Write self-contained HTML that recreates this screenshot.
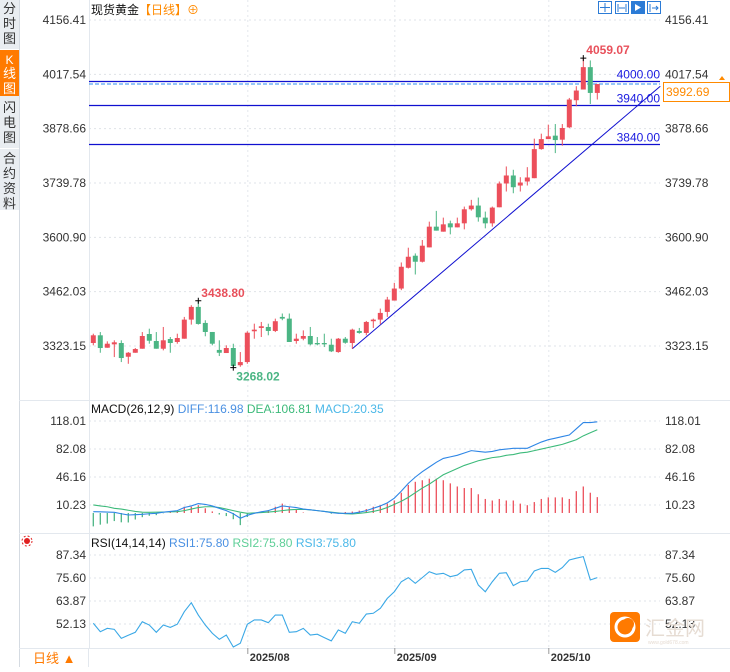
<!DOCTYPE html>
<html><head><meta charset="utf-8">
<style>
html,body{margin:0;padding:0;background:#fff;}
body{width:730px;height:667px;overflow:hidden;font-family:"Liberation Sans","Noto Sans CJK SC",sans-serif;}
svg text{font-family:"Liberation Sans","Noto Sans CJK SC",sans-serif;}
</style></head>
<body>
<svg id="chart" width="730" height="667" viewBox="0 0 730 667" xmlns="http://www.w3.org/2000/svg">
  <rect x="0" y="0" width="730" height="667" fill="#fff"/>
  <!-- sidebar -->
  <g>
    <rect x="0" y="0" width="19" height="210" fill="#e9edf1"/>
    <line x1="19.5" y1="0" x2="19.5" y2="667" stroke="#d5dbe2"/>
    <g><text x="9.5" y="13" font-size="13" text-anchor="middle" fill="#333">分</text><text x="9.5" y="28" font-size="13" text-anchor="middle" fill="#333">时</text><text x="9.5" y="43" font-size="13" text-anchor="middle" fill="#333">图</text></g>
    <line x1="0" y1="49.5" x2="19" y2="49.5" stroke="#fff"/>
    <g><rect x="0" y="50" width="19" height="46" fill="#ff7a00"/><text x="9.5" y="64" font-size="12" text-anchor="middle" fill="#fff">K</text><text x="9.5" y="78" font-size="13" text-anchor="middle" fill="#fff">线</text><text x="9.5" y="93" font-size="13" text-anchor="middle" fill="#fff">图</text></g>
    <g><text x="9.5" y="112" font-size="13" text-anchor="middle" fill="#333">闪</text><text x="9.5" y="127" font-size="13" text-anchor="middle" fill="#333">电</text><text x="9.5" y="142" font-size="13" text-anchor="middle" fill="#333">图</text></g>
    <line x1="0" y1="148.5" x2="19" y2="148.5" stroke="#fff"/>
    <g><text x="9.5" y="163" font-size="13" text-anchor="middle" fill="#333">合</text><text x="9.5" y="178" font-size="13" text-anchor="middle" fill="#333">约</text><text x="9.5" y="193" font-size="13" text-anchor="middle" fill="#333">资</text><text x="9.5" y="208" font-size="13" text-anchor="middle" fill="#333">料</text></g>
  </g>
  <line x1="89.5" y1="0" x2="89.5" y2="648" stroke="#e3e8ee"/>
  <line x1="19" y1="400.5" x2="730" y2="400.5" stroke="#e3e8ee"/>
  <line x1="19" y1="533.5" x2="730" y2="533.5" stroke="#e3e8ee"/>
  <line x1="19" y1="648.5" x2="730" y2="648.5" stroke="#e3e8ee"/>
  <!-- title -->
  <text x="91" y="14" font-size="12" fill="#111">现货黄金<tspan fill="#ff8a00">【日线】</tspan><tspan fill="#ff8a00">⊕</tspan></text>
  <!-- toolbar -->
  <g>
    <g><rect x="598.5" y="1.5" width="13" height="12" fill="#fff" stroke="#2b7bd6"/><path d="M605 3v9M600 7.5h10" stroke="#2b7bd6"/></g>
    <g><rect x="615.5" y="1.5" width="13" height="12" fill="#fff" stroke="#2b7bd6"/><path d="M618 4v8M626 4v8M619 8h6" stroke="#2b7bd6"/></g>
    <g><rect x="631.5" y="1.5" width="13" height="12" fill="#2b7bd6" stroke="#2b7bd6"/><path d="M635 4v7l6-3.5z" fill="#fff"/></g>
    <g><rect x="647.5" y="1.5" width="13" height="12" fill="#fff" stroke="#2b7bd6"/><path d="M650 4v8M652 8h6M656 6l2 2-2 2" stroke="#2b7bd6" fill="none"/></g>
  </g>
  <g id="grid"></g>
  <g id="price"></g>
  <g id="macd"></g>
  <g id="rsi"></g>
  <!-- legends -->
  <text x="91" y="413" font-size="12" fill="#111">MACD(26,12,9) <tspan fill="#4a90e2">DIFF:116.98</tspan> <tspan fill="#3cba7a">DEA:106.81</tspan> <tspan fill="#4bb8e8">MACD:20.35</tspan></text>
  <text x="91" y="547" font-size="12" fill="#111">RSI(14,14,14) <tspan fill="#4a90e2">RSI1:75.80</tspan> <tspan fill="#5fcf98">RSI2:75.80</tspan> <tspan fill="#4bb8e8">RSI3:75.80</tspan></text>
  <g><circle cx="27" cy="541" r="3" fill="#e02020"/><circle cx="27" cy="541" r="5" fill="none" stroke="#e02020" stroke-dasharray="2 2"/></g>
  <!-- bottom -->
  <g><rect x="20" y="649" width="69" height="18" fill="#fff"/><line x1="88.5" y1="649" x2="88.5" y2="667" stroke="#e3e8ee"/><text x="33" y="663" font-size="13" fill="#ff7a00">日线 ▲</text></g>
  <g>
    <rect x="610" y="612" width="30" height="30" rx="4" fill="#ff7a00"/>
    <circle cx="625" cy="627" r="9" fill="none" stroke="#fff" stroke-width="3"/>
    <circle cx="628" cy="624" r="6" fill="#ff7a00"/>
    <text x="645" y="635" font-size="20" fill="#e6dcd3">汇金网</text>
    <text x="648" y="644" font-size="5" fill="#e6dcd3">www.gold678.com</text>
  </g>
  <g>
    <path d="M719 80l3-4 3 4z" fill="#ff8a00"/>
    <rect x="663.5" y="82.5" width="66" height="19" fill="#fff" stroke="#ff8a00"/>
    <text x="666" y="96" font-size="12" fill="#ff8a00">3992.69</text>
  </g>
</svg>
<script>
// ---- data ----
const opens  = [3330.8,3350.5,3318.7,3327.4,3330.8,3295.7,3305.9,3316.2,3353.8,3335.9,3316.2,3341.0,3333.4,3341.8,3390.6,3423.1,3382.1,3359.0,3313.1,3305.2,3318.0,3274.0,3282.1,3360.8,3369.3,3371.8,3361.6,3397.5,3393.1,3335.9,3341.8,3348.7,3330.8,3330.8,3326.4,3307.7,3341.8,3330.8,3361.6,3356.5,3386.5,3390.6,3410.3,3439.3,3470.0,3523.1,3553.9,3538.5,3575.2,3628.2,3615.4,3636.7,3626.4,3636.7,3672.6,3682.1,3651.3,3636.7,3677.7,3738.5,3759.0,3733.3,3743.6,3752.1,3826.4,3852.0,3860.8,3850.5,3882.0,3951.3,3978.7,4035.9,3970.0];
const highs  = [3354.6,3358.8,3335.1,3337.7,3337.7,3307.7,3317.9,3358.8,3367.4,3358.8,3371.8,3346.1,3354.6,3397.5,3427.4,3438.8,3389.0,3359.0,3337.7,3324.9,3329.0,3307.7,3360.8,3380.2,3384.6,3380.2,3393.1,3406.2,3406.2,3354.6,3363.1,3371.8,3346.1,3354.6,3341.8,3343.6,3346.1,3367.4,3369.3,3387.2,3393.1,3418.8,3448.7,3484.6,3536.7,3574.4,3559.8,3594.1,3641.0,3668.5,3651.3,3643.6,3651.3,3679.5,3696.7,3702.6,3666.7,3679.5,3743.6,3782.1,3773.6,3754.6,3780.3,3853.1,3865.9,3889.0,3890.5,3890.5,3957.2,3987.2,4059.07,4053.1,3992.7];
const lows   = [3324.9,3305.9,3318.7,3294.9,3282.1,3277.7,3305.9,3316.2,3329.0,3316.2,3312.0,3305.9,3329.0,3341.8,3377.8,3377.8,3348.0,3324.9,3297.5,3305.2,3268.02,3270.0,3277.7,3341.8,3346.1,3350.5,3358.8,3389.0,3333.4,3329.0,3337.7,3324.9,3324.9,3320.5,3307.7,3305.9,3329.0,3316.2,3354.6,3350.5,3369.3,3378.8,3397.5,3439.3,3465.9,3521.3,3505.9,3536.7,3575.2,3618.0,3615.4,3608.5,3626.4,3621.3,3669.2,3641.0,3623.9,3628.2,3677.7,3718.0,3713.6,3718.0,3733.3,3752.1,3824.9,3852.0,3816.2,3835.1,3880.3,3935.9,3978.7,3941.8,3953.1];
const closes = [3350.5,3318.0,3329.0,3332.6,3292.4,3305.9,3315.4,3348.7,3336.6,3316.2,3337.7,3330.8,3343.6,3390.6,3423.1,3379.5,3359.0,3329.0,3305.9,3318.0,3272.0,3282.1,3357.2,3364.9,3373.6,3361.6,3386.5,3393.1,3333.4,3341.8,3348.7,3327.4,3327.4,3327.4,3309.5,3341.8,3331.5,3364.9,3356.5,3384.6,3390.6,3407.7,3441.8,3470.0,3525.7,3551.3,3538.5,3579.5,3628.2,3618.0,3634.1,3626.4,3636.7,3672.6,3682.1,3652.1,3636.7,3676.9,3738.5,3759.0,3729.0,3741.0,3753.9,3826.4,3852.0,3859.0,3849.5,3880.3,3953.1,3976.1,4035.9,3970.0,3992.69];
const diffValues = [1.7,1.5,1.2,0.8,-1,-2.6,-2.2,-1.7,-1,-0.4,1,2,3,7,9,12,11,9,6,3,-1,-6.8,-3,-0.4,1.5,3,6,9,8,7,5,4,3,2,0.5,-0.4,-0.4,-0.4,1,3,6,9,13,19,28,38,46,53,59,65,70,72,74,77,80,79,78,79,81,82,83,83,83,87,91,94,96,98,100,108,116,116,116.98];
const deaValues  = [10.3,9,8,6,5,3.5,2,1,0.8,1,1.2,1.4,1.7,3,5,7,8,8,7,5,3,1,-0.4,0,0.5,1.2,2,3,4,4.5,4.7,4,3,2,1,0,-1,-1.3,-0.5,0.5,2,4,7,11,15,20,26,32,37,43,49,53,57,61,64,67,69,71,72,74,75,77,78,80,82,84,86,88,91,94,99,103,106.81];
const rsiValues  = [52.5,48.2,49.9,49.4,44.8,46.4,47.9,53.3,51.6,47.9,51.6,50.4,52.0,58.4,63.0,56.7,51.6,47.4,44.3,46.5,40.4,42.3,52.0,54.2,54.2,52.8,56.7,56.7,47.9,48.2,49.9,46.5,46.9,45.2,43.5,49.1,47.4,53.3,52.5,57.2,57.6,60.1,65.2,68.6,73.7,75.8,72.9,75.8,78.8,77.5,78.0,76.3,77.1,79.7,80.0,72.0,68.6,73.7,78.0,78.3,71.7,73.7,74.1,79.2,80.5,80.5,78.5,80.9,84.8,85.7,86.5,74.6,75.8];
const priceTicks = [4156.41,4017.54,3878.66,3739.78,3600.90,3462.03,3323.15];
const macdTicks = [118.01,82.08,46.16,10.23];
const rsiTicks = [87.34,75.60,63.87,52.13];
const levelValues = [4000,3940,3840];
const trendStart = [37,3316];
const trendEnd = [81,3987];
const dateLabels = ['2025/08','2025/09','2025/10'];
const dateIndex = [22.5,43.5,65.5];

// ---- axes ----
const NS='http://www.w3.org/2000/svg';
const X0=89, X1=660;
const xOf=i=>93.3+7*i;
const yP=v=>20+(4156.41-v)*326/833.26;
const yM=v=>421+(118.01-v)*84/107.78;
const yR=v=>555+(87.34-v)*69/35.21;
const RED='#ec4f5b', GREEN='#4bb584';
function mk(tag,attrs,parent,text){const e=document.createElementNS(NS,tag);for(const k in attrs)e.setAttribute(k,attrs[k]);if(text!==undefined)e.textContent=text;parent.appendChild(e);return e;}
const grid=document.getElementById('grid'), price=document.getElementById('price'), macd=document.getElementById('macd'), rsi=document.getElementById('rsi');

function ticks(arr,yf,fmt){
  arr.forEach(v=>{
    const y=yf(v);
    const gl=mk('line',{x1:X0,x2:X1,y1:y,y2:y,stroke:'#dfe3e8','stroke-dasharray':'2 3'},grid);
    
    
    const l=mk('text',{x:86,y:y+4,'font-size':12,'text-anchor':'end',fill:'#333'},grid,v.toFixed(2));
    
    
    const r=mk('text',{x:665,y:y+4,'font-size':12,fill:'#333'},grid,v.toFixed(2));
    
    
  });
}
ticks(priceTicks,yP);ticks(macdTicks,yM);ticks(rsiTicks,yR);
dateLabels.forEach((d,k)=>{
  const x=xOf(dateIndex[k])-3;
  const vl=mk('line',{x1:x,x2:x,y1:0,y2:648,stroke:'#e3e7ec','stroke-dasharray':'2 3'},grid);
  
  
  mk('line',{x1:x,x2:x,y1:648,y2:654,stroke:'#999'},grid);
  const t=mk('text',{x:x+2,y:661,'font-size':11,'font-weight':'bold',fill:'#333'},grid,d);
  
  
});

// level lines
levelValues.forEach(v=>{
  const y=Math.round(yP(v))+0.5;
  const l=mk('line',{x1:X0,x2:X1,y1:y,y2:y,stroke:'#1010d0','stroke-width':1.2},price);
  
  
  const t=mk('text',{x:X1,y:y-3,'font-size':12,'text-anchor':'end',fill:'#1a1ae0'},price,v.toFixed(2));
  
  
});
// current price dashed line
const last=closes[closes.length-1];
const cp=mk('line',{x1:X0,x2:X1,y1:yP(last),y2:yP(last),stroke:'#2d8cf0','stroke-dasharray':'4 2'},price);


// trend line
const tr=mk('line',{x1:xOf(trendStart[0]),y1:yP(trendStart[1]),x2:xOf(trendEnd[0]),y2:yP(trendEnd[1]),stroke:'#1010d0','stroke-width':1},price);



// candles
opens.forEach((o,i)=>{
  const c=closes[i], up=c>=o, col=up?RED:GREEN, x=xOf(i);
  const g=mk('g',{},price);
  
  
  mk('line',{x1:x,x2:x,y1:yP(highs[i]),y2:yP(lows[i]),stroke:col},g);
  const top=yP(Math.max(o,c)), h=Math.max(1,yP(Math.min(o,c))-top);
  mk('rect',{x:x-2.5,y:top,width:5,height:h,fill:col},g);
});
// extreme labels
function markHL(i,v,isHigh,col){
  const x=xOf(i), y=yP(v);
  const g=mk('g',{},price);
  
  
  mk('path',{d:`M${x-3} ${y}h6M${x} ${y-3}v6`,stroke:'#000'},g);
  mk('text',{x:x+3,y:isHigh?y-4:y+13,'font-size':12,'font-weight':'bold',fill:col},g,v.toFixed(2));
}
const hiIdx=highs.indexOf(Math.max(...highs)), loIdx=lows.indexOf(Math.min(...lows));
markHL(hiIdx,highs[hiIdx],true,'#e8505b');
markHL(15,highs[15],true,'#e8505b');
markHL(loIdx,lows[loIdx],false,'#4bb584');

// MACD
diffValues.forEach((d,i)=>{
  const h=2*(d-deaValues[i]), x=xOf(i);
  const b=mk('line',{x1:x,x2:x,y1:yM(0),y2:yM(h),stroke:h>=0?RED:GREEN,'stroke-width':1.3},macd);
  
  
});
function poly(arr,yf,col,parent,name){
  const p=mk('polyline',{points:arr.map((v,i)=>xOf(i)+','+yf(v)).join(' '),fill:'none',stroke:col,'stroke-width':1.1},parent);
  
  
}
poly(deaValues,yM,'#3cba7a',macd,'dea-line');
poly(diffValues,yM,'#2e86e6',macd,'diff-line');
poly(rsiValues,yR,'#3aa8e6',rsi,'rsi-line');
</script>
</body></html>
